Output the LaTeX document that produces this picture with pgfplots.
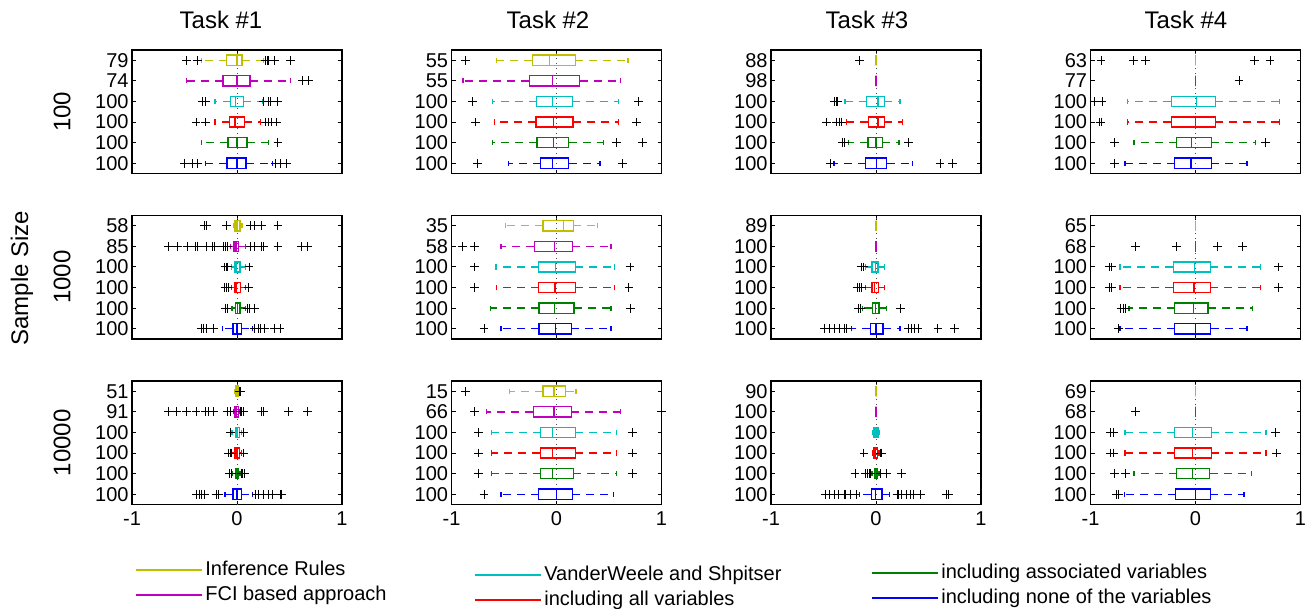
\documentclass[border=0pt]{standalone}
\usepackage{pgfplots}
\pgfplotsset{compat=1.18}
\usepgfplotslibrary{statistics}
\usepackage{fontspec}
\setmainfont{Liberation Sans}
\definecolor{ycol}{RGB}{191,191,0}
\definecolor{mcol}{RGB}{191,0,191}
\definecolor{ccol}{RGB}{0,191,191}
\definecolor{rcol}{RGB}{255,0,0}
\definecolor{gcol}{RGB}{0,128,0}
\definecolor{bcol}{RGB}{0,0,255}
\tikzset{mydash/.style={dash pattern=on 4pt off 3pt}}
\pgfplotsset{
  boxplot/draw/lower whisker/.code={%
    \draw[/pgfplots/boxplot/every whisker/.try, mydash]
      (boxplot box cs:\pgfplotsboxplotvalue{lower quartile},0.5) --
      (boxplot box cs:\pgfplotsboxplotvalue{lower whisker},0.5);
    \draw[/pgfplots/boxplot/every whisker/.try]
      (boxplot whisker cs:\pgfplotsboxplotvalue{lower whisker},0) --
      (boxplot whisker cs:\pgfplotsboxplotvalue{lower whisker},1);
  },
  boxplot/draw/upper whisker/.code={%
    \draw[/pgfplots/boxplot/every whisker/.try, mydash]
      (boxplot box cs:\pgfplotsboxplotvalue{upper quartile},0.5) --
      (boxplot box cs:\pgfplotsboxplotvalue{upper whisker},0.5);
    \draw[/pgfplots/boxplot/every whisker/.try]
      (boxplot whisker cs:\pgfplotsboxplotvalue{upper whisker},0) --
      (boxplot whisker cs:\pgfplotsboxplotvalue{upper whisker},1);
  },
  panel/.style={
    scale only axis, width=105pt, height=61.75pt,
    anchor=north west,
    xmin=-1, xmax=1, ymin=0.5, ymax=6.5,
    xtick={-1,0,1}, ytick={1,2,3,4,5,6},
    xticklabels={},
    tick align=inside, major tick length=2pt,
    tick pos=both, xticklabel pos=bottom, yticklabel pos=left,
    axis line style={line width=0.6pt},
    every tick/.style={black, line width=0.5pt},
    yticklabel style={inner sep=1.5pt},
    boxplot/draw direction=x,
    boxplot/box extend=0.5,
    boxplot/whisker extend=0.25,
    legend cell align=left,
    legend image code/.code={\draw[##1] (0pt,0pt) -- (30pt,0pt); \path (0pt,0pt) -- (33pt,0pt);},
    legend style={draw=none, fill=none, anchor=north west, inner sep=0pt,
      row sep=0.5pt, nodes={inner sep=1pt, text height=7.5pt, text depth=2.5pt}},
  },
}
\newcommand\bx[7]{\addplot[color=#1, forget plot, line width=0.7pt,
  boxplot prepared={draw position=#2, lower whisker=#3, lower quartile=#4,
  median=#5, upper quartile=#6, upper whisker=#7}] coordinates {};}
\newcommand\ol[1]{\addplot[only marks, mark=+, mark size=2.2pt, black,
  line width=0.5pt, forget plot] coordinates {#1};}
\newcommand\zl{\addplot[black!70, dotted, forget plot, line width=0.5pt] coordinates {(0,0.5) (0,6.5)};}
\begin{document}
\begin{tikzpicture}
\useasboundingbox (0,0) rectangle (652.5pt,-304.5pt);
% ---------- row 1 ----------
\begin{axis}[panel, at={(66pt,-25pt)}, yticklabels={100,100,100,100,74,79}]
\zl
\bx{ycol}{6}{-0.34}{-0.10}{0}{0.047}{0.25}
\ol{(-0.48,6)(-0.38,6)(0.27,6)(0.29,6)(0.30,6)(0.36,6)(0.51,6)}
\bx{mcol}{5}{-0.48}{-0.134}{0}{0.125}{0.51}
\ol{(0.625,5)(0.68,5)}
\bx{ccol}{4}{-0.21}{-0.06}{-0.016}{0.06}{0.24}
\ol{(-0.33,4)(-0.30,4)(0.25,4)(0.30,4)(0.32,4)(0.39,4)}
\bx{rcol}{3}{-0.21}{-0.07}{-0.02}{0.07}{0.225}
\ol{(-0.39,3)(-0.30,3)(0.27,3)(0.30,3)(0.33,3)(0.38,3)}
\bx{gcol}{2}{-0.34}{-0.084}{0}{0.097}{0.30}
\ol{(0.39,2)}
\bx{bcol}{1}{-0.30}{-0.097}{0}{0.084}{0.34}
\ol{(-0.50,1)(-0.42,1)(-0.38,1)(0.37,1)(0.41,1)(0.475,1)}
\end{axis}
\begin{axis}[panel, at={(225.75pt,-25pt)}, yticklabels={100,100,100,100,55,55}]
\zl
\bx{ycol}{6}{-0.57}{-0.23}{-0.064}{0.18}{0.68}
\ol{(-0.87,6)}
\bx{mcol}{5}{-0.89}{-0.26}{-0.04}{0.22}{0.61}
\bx{ccol}{4}{-0.61}{-0.19}{-0.04}{0.15}{0.59}
\ol{(-0.80,4)(0.78,4)}
\bx{rcol}{3}{-0.59}{-0.195}{-0.03}{0.157}{0.59}
\ol{(-0.77,3)(0.76,3)}
\bx{gcol}{2}{-0.61}{-0.185}{-0.03}{0.115}{0.45}
\ol{(0.57,2)(0.82,2)}
\bx{bcol}{1}{-0.46}{-0.15}{-0.04}{0.115}{0.415}
\ol{(-0.75,1)(0.63,1)}
\end{axis}
\begin{axis}[panel, at={(385.5pt,-25pt)}, yticklabels={100,100,100,100,98,88}]
\zl
\bx{ycol}{6}{0}{0}{0}{0}{0}
\ol{(-0.16,6)}
\bx{mcol}{5}{0}{0}{0}{0}{0}
\bx{ccol}{4}{-0.295}{-0.088}{0.02}{0.08}{0.23}
\ol{(-0.40,4)(-0.38,4)(-0.37,4)}
\bx{rcol}{3}{-0.28}{-0.072}{0.02}{0.078}{0.25}
\ol{(-0.47,3)(-0.375,3)(-0.35,3)(-0.33,3)}
\bx{gcol}{2}{-0.26}{-0.075}{0}{0.06}{0.22}
\ol{(-0.32,2)(-0.30,2)(0.31,2)}
\bx{bcol}{1}{-0.40}{-0.10}{0.006}{0.10}{0.345}
\ol{(-0.43,1)(0.61,1)(0.73,1)}
\end{axis}
\begin{axis}[panel, at={(545.25pt,-25pt)}, yticklabels={100,100,100,100,77,63}]
\zl
\bx{ycol}{6}{0}{0}{0}{0}{0}
\ol{(-0.90,6)(-0.59,6)(-0.48,6)(0.56,6)(0.71,6)}
\bx{mcol}{5}{0}{0}{0}{0}{0}
\ol{(0.415,5)}
\bx{ccol}{4}{-0.65}{-0.23}{0.01}{0.19}{0.80}
\ol{(-0.96,4)(-0.89,4)}
\bx{rcol}{3}{-0.65}{-0.23}{0}{0.19}{0.80}
\ol{(-0.91,3)(-0.90,3)}
\bx{gcol}{2}{-0.585}{-0.18}{-0.04}{0.15}{0.57}
\ol{(-0.77,2)(0.67,2)}
\bx{bcol}{1}{-0.67}{-0.20}{-0.044}{0.15}{0.49}
\ol{(-0.77,1)}
\end{axis}
% ---------- row 2 ----------
\begin{axis}[panel, at={(66pt,-107.75pt)}, yticklabels={100,100,100,100,85,58}]
\zl
\bx{ycol}{6}{-0.03}{-0.02}{0}{0.03}{0.047}
\ol{(-0.31,6)(-0.29,6)(-0.10,6)(0.125,6)(0.17,6)(0.23,6)(0.39,6)}
\bx{mcol}{5}{-0.06}{-0.03}{-0.01}{0.016}{0.08}
\ol{(-0.65,5)(-0.57,5)(-0.475,5)(-0.40,5)(-0.375,5)(-0.29,5)(-0.23,5)(-0.21,5)(-0.13,5)(-0.11,5)(-0.09,5)(0.13,5)(0.17,5)(0.23,5)(0.25,5)(0.39,5)(0.615,5)(0.67,5)}
\bx{ccol}{4}{-0.05}{-0.02}{-0.006}{0.03}{0.08}
\ol{(-0.115,4)(-0.10,4)(-0.09,4)(0.115,4)}
\bx{rcol}{3}{-0.05}{-0.02}{-0.006}{0.035}{0.08}
\ol{(-0.115,3)(-0.10,3)(-0.085,3)(0.11,3)}
\bx{gcol}{2}{-0.047}{-0.016}{0.003}{0.03}{0.08}
\ol{(-0.11,2)(-0.095,2)(0.10,2)(0.115,2)(0.17,2)}
\bx{bcol}{1}{-0.14}{-0.04}{0}{0.04}{0.147}
\ol{(-0.34,1)(-0.32,1)(-0.29,1)(-0.22,1)(0.17,1)(0.20,1)(0.225,1)(0.265,1)(0.36,1)(0.41,1)}
\end{axis}
\begin{axis}[panel, at={(225.75pt,-107.75pt)}, yticklabels={100,100,100,100,58,35}]
\zl
\bx{ycol}{6}{-0.485}{-0.13}{0.064}{0.16}{0.39}
\bx{mcol}{5}{-0.53}{-0.21}{-0.02}{0.15}{0.52}
\ol{(-0.895,5)(-0.78,5)}
\bx{ccol}{4}{-0.575}{-0.17}{-0.01}{0.18}{0.55}
\ol{(-0.78,4)(0.70,4)}
\bx{rcol}{3}{-0.57}{-0.17}{-0.013}{0.18}{0.55}
\ol{(-0.78,3)(0.69,3)}
\bx{gcol}{2}{-0.63}{-0.166}{-0.02}{0.166}{0.52}
\ol{(0.705,2)}
\bx{bcol}{1}{-0.53}{-0.166}{-0.01}{0.14}{0.52}
\ol{(-0.69,1)}
\end{axis}
\begin{axis}[panel, at={(385.5pt,-107.75pt)}, yticklabels={100,100,100,100,100,89}]
\zl
\bx{ycol}{6}{0}{0}{0}{0}{0}
\bx{mcol}{5}{0}{0}{0}{0}{0}
\bx{ccol}{4}{-0.10}{-0.038}{-0.006}{0.02}{0.08}
\ol{(-0.14,4)(-0.12,4)}
\bx{rcol}{3}{-0.10}{-0.038}{-0.012}{0.025}{0.08}
\ol{(-0.18,3)(-0.16,3)(-0.14,3)}
\bx{gcol}{2}{-0.13}{-0.034}{-0.006}{0.03}{0.10}
\ol{(-0.17,2)(-0.15,2)(0.23,2)}
\bx{bcol}{1}{-0.235}{-0.053}{0}{0.066}{0.23}
\ol{(-0.49,1)(-0.445,1)(-0.40,1)(-0.35,1)(-0.30,1)(-0.28,1)(0.31,1)(0.34,1)(0.37,1)(0.40,1)(0.59,1)(0.75,1)}
\end{axis}
\begin{axis}[panel, at={(545.25pt,-107.75pt)}, yticklabels={100,100,100,100,68,65}]
\zl
\bx{ycol}{6}{0}{0}{0}{0}{0}
\bx{mcol}{5}{0}{0}{0}{0}{0}
\ol{(-0.57,5)(-0.18,5)(0.21,5)(0.45,5)}
\bx{ccol}{4}{-0.72}{-0.21}{-0.01}{0.14}{0.62}
\ol{(-0.82,4)(-0.80,4)(0.79,4)}
\bx{rcol}{3}{-0.72}{-0.21}{-0.016}{0.14}{0.62}
\ol{(-0.82,3)(-0.80,3)(0.79,3)}
\bx{gcol}{2}{-0.635}{-0.20}{-0.02}{0.12}{0.54}
\ol{(-0.71,2)(-0.685,2)(-0.665,2)}
\bx{bcol}{1}{-0.72}{-0.20}{0}{0.145}{0.49}
\ol{(-0.735,1)}
\end{axis}
% ---------- row 3 ----------
\begin{axis}[panel, at={(66pt,-190.5pt)}, yticklabels={100,100,100,100,91,51},
  xticklabels={-1,0,1}, legend style={at={(0.014,-0.433)}}]
\zl
\bx{ycol}{6}{-0.02}{-0.01}{0}{0.01}{0.02}
\ol{(0.02,6)(0.03,6)}
\bx{mcol}{5}{-0.03}{-0.02}{-0.006}{0.015}{0.03}
\ol{(-0.655,5)(-0.58,5)(-0.48,5)(-0.39,5)(-0.30,5)(-0.27,5)(-0.22,5)(-0.095,5)(-0.06,5)(0.035,5)(0.047,5)(0.06,5)(0.235,5)(0.25,5)(0.49,5)(0.67,5)}
\bx{ccol}{4}{-0.047}{-0.016}{0}{0.022}{0.04}
\ol{(-0.06,4)(0.06,4)}
\bx{rcol}{3}{-0.05}{-0.02}{0}{0.022}{0.04}
\ol{(-0.08,3)(-0.065,3)(-0.055,3)(0.06,3)}
\bx{gcol}{2}{-0.047}{-0.016}{0}{0.016}{0.03}
\ol{(-0.07,2)(-0.056,2)(0.04,2)(0.05,2)(0.07,2)}
\bx{bcol}{1}{-0.115}{-0.04}{0}{0.04}{0.15}
\ol{(-0.385,1)(-0.36,1)(-0.34,1)(-0.31,1)(-0.20,1)(-0.18,1)(0.18,1)(0.20,1)(0.25,1)(0.30,1)(0.34,1)(0.41,1)(0.42,1)}
\addlegendimage{draw=ycol, line width=1pt}
\addlegendentry{Inference Rules}
\addlegendimage{draw=mcol, line width=1pt}
\addlegendentry{FCI based approach}
\end{axis}
\begin{axis}[panel, at={(225.75pt,-190.5pt)}, yticklabels={100,100,100,100,66,15},
  xticklabels={-1,0,1}, legend style={at={(0.107,-0.474)}}]
\zl
\bx{ycol}{6}{-0.45}{-0.13}{-0.025}{0.086}{0.185}
\ol{(-0.87,6)}
\bx{mcol}{5}{-0.665}{-0.22}{-0.022}{0.14}{0.61}
\ol{(-0.78,5)(1.0,5)}
\bx{ccol}{4}{-0.62}{-0.15}{-0.04}{0.18}{0.57}
\ol{(-0.745,4)(0.72,4)}
\bx{rcol}{3}{-0.62}{-0.155}{-0.04}{0.18}{0.57}
\ol{(-0.745,3)(0.72,3)}
\bx{gcol}{2}{-0.62}{-0.15}{-0.04}{0.16}{0.57}
\ol{(-0.745,2)(0.72,2)}
\bx{bcol}{1}{-0.53}{-0.17}{0}{0.15}{0.54}
\ol{(-0.69,1)}
\addlegendimage{draw=ccol, line width=1pt}
\addlegendentry{VanderWeele and Shpitser}
\addlegendimage{draw=rcol, line width=1pt}
\addlegendentry{including all variables}
\end{axis}
\begin{axis}[panel, at={(385.5pt,-190.5pt)}, yticklabels={100,100,100,100,100,90},
  xticklabels={-1,0,1}, legend style={at={(0.476,-0.457)}}]
\zl
\bx{ycol}{6}{0}{0}{0}{0}{0}
\bx{mcol}{5}{0}{0}{0}{0}{0}
\bx{ccol}{4}{-0.03}{-0.02}{0}{0.02}{0.03}
\bx{rcol}{3}{-0.03}{-0.02}{-0.003}{0.013}{0.03}
\ol{(-0.115,3)(0.04,3)(0.056,3)}
\bx{gcol}{2}{-0.04}{-0.016}{0}{0.013}{0.03}
\ol{(-0.20,2)(-0.10,2)(-0.08,2)(-0.063,2)(-0.053,2)(0.04,2)(0.10,2)(0.24,2)}
\bx{bcol}{1}{-0.16}{-0.044}{-0.006}{0.056}{0.13}
\ol{(-0.48,1)(-0.445,1)(-0.40,1)(-0.357,1)(-0.30,1)(-0.29,1)(-0.24,1)(-0.19,1)(0.20,1)(0.21,1)(0.245,1)(0.29,1)(0.33,1)(0.36,1)(0.42,1)(0.67,1)(0.69,1)}
\addlegendimage{draw=gcol, line width=1pt}
\addlegendentry{including associated variables}
\addlegendimage{draw=bcol, line width=1pt}
\addlegendentry{including none of the variables}
\end{axis}
\begin{axis}[panel, at={(545.25pt,-190.5pt)}, yticklabels={100,100,100,100,68,69},
  xticklabels={-1,0,1}]
\zl
\bx{ycol}{6}{0}{0}{0}{0}{0}
\bx{mcol}{5}{0}{0}{0}{0}{0}
\ol{(-0.57,5)}
\bx{ccol}{4}{-0.67}{-0.20}{-0.03}{0.15}{0.67}
\ol{(-0.81,4)(-0.78,4)(0.765,4)}
\bx{rcol}{3}{-0.67}{-0.20}{-0.03}{0.15}{0.67}
\ol{(-0.81,3)(-0.78,3)(0.77,3)}
\bx{gcol}{2}{-0.585}{-0.18}{-0.03}{0.135}{0.535}
\ol{(-0.77,2)(-0.67,2)}
\bx{bcol}{1}{-0.675}{-0.19}{0}{0.14}{0.46}
\ol{(-0.75,1)(-0.73,1)}
\end{axis}
% ---------- labels ----------
\node[font=\fontsize{12}{14}\selectfont] at (110.5pt,-10pt) {Task \#1};
\node[font=\fontsize{12}{14}\selectfont] at (274pt,-10pt) {Task \#2};
\node[font=\fontsize{12}{14}\selectfont] at (433.5pt,-10pt) {Task \#3};
\node[font=\fontsize{12}{14}\selectfont] at (593pt,-10pt) {Task \#4};
\node[rotate=90, font=\fontsize{12}{14}\selectfont] at (31pt,-55.9pt) {100};
\node[rotate=90, font=\fontsize{12}{14}\selectfont] at (31pt,-138.6pt) {1000};
\node[rotate=90, font=\fontsize{12}{14}\selectfont] at (31pt,-221.4pt) {10000};
\node[rotate=90, font=\fontsize{12}{14}\selectfont] at (11pt,-139pt) {Sample Size};
\end{tikzpicture}
\end{document}
